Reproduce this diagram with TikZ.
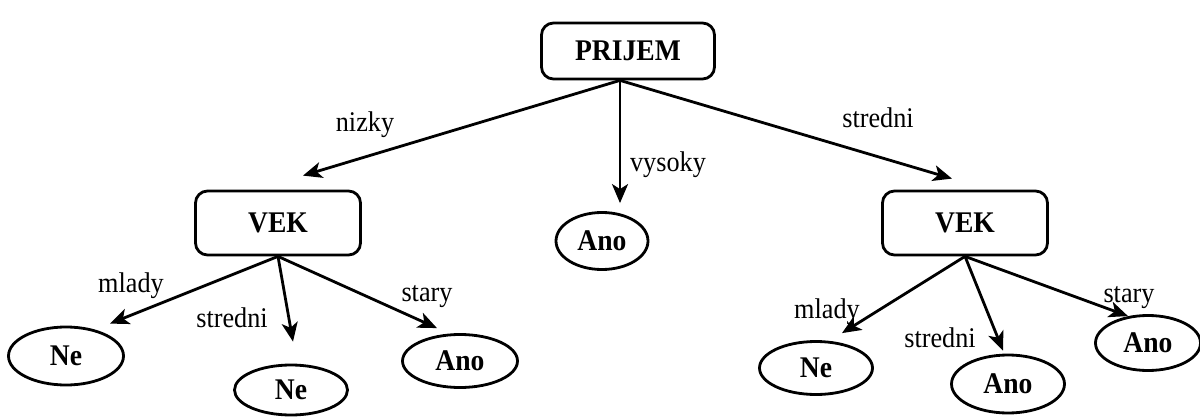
\documentclass[tikz,border=0pt]{standalone}
\usepackage{fontspec}
\setmainfont[FakeStretch=0.92]{Liberation Serif}
\usetikzlibrary{arrows.meta,shapes.geometric}

\begin{document}
\begin{tikzpicture}[x=1pt,y=1pt,>={Stealth[length=19pt,width=16pt,inset=5pt]},line width=2.8pt,
    attr/.style={draw,rounded corners=12pt,minimum width=165pt,minimum height=64pt,inner sep=0pt,
      font=\fontsize{30}{34}\selectfont\bfseries},
    leaf/.style={draw,ellipse,minimum width=113pt,minimum height=54pt,inner sep=0pt,
      font=\fontsize{30}{34}\selectfont\bfseries},
    lbl/.style={anchor=base,inner sep=0pt,font=\fontsize{28.5}{32}\selectfont}]
      \useasboundingbox (0,0) rectangle (1200,416);

      \node[attr,minimum width=173pt,minimum height=56pt] (prijem) at (628,365) {PRIJEM};
      \node[attr]  (vekL)  at (278,193)  {VEK};
      \node[attr]  (vekR)  at (965,193)  {VEK};
      \node[leaf,minimum width=92pt,minimum height=57pt] (anoM) at (602,175) {Ano};
      \node[leaf,minimum width=115pt,minimum height=58pt] (neL1) at (66,60) {Ne};
      \node[leaf,minimum height=50pt] (neL2) at (291,26) {Ne};
      \node[leaf,minimum width=115pt,minimum height=53pt] (anoL) at (460,55) {Ano};
      \node[leaf,minimum height=53pt] (neR)  at (816,48)  {Ne};
      \node[leaf,minimum height=58pt] (anoR2) at (1008,32) {Ano};
      \node[leaf,minimum width=105pt,minimum height=55pt] (anoR3) at (1148,73) {Ano};

      \coordinate (p) at ([xshift=-8pt]prijem.south);

      \path[->] (p) edge ([shift={(25pt,14pt)}]vekL.north);
      \path[->] (p) edge ([shift={(18pt,8pt)}]anoM.north);
      \path[->] (p) edge ([shift={(-13pt,11pt)}]vekR.north);
      \path[->] (vekL.south) edge ([shift={(44pt,2pt)}]neL1.north);
      \path[->] (vekL.south) edge ([shift={(2pt,22pt)}]neL2.north);
      \path[->] (vekL.south) edge ([shift={(-23pt,5pt)}]anoL.north);
      \path[->] (vekR.south) edge ([shift={(26pt,7pt)}]neR.north);
      \path[->] (vekR.south) edge ([shift={(-5pt,3pt)}]anoR2.north);
      \path[->] (vekR.south) edge ([shift={(-20pt,-2pt)}]anoR3.north);

      \node[lbl] (lNizky)   at (365,284)  {nizky};
      \node[lbl] (lVysoky)  at (668,245)  {vysoky};
      \node[lbl] (lStredni) at (878,289)  {stredni};
      \node[lbl] (lMladyL)  at (131,124)  {mlady};
      \node[lbl] (lStredL)  at (232,89)   {stredni};
      \node[lbl] (lStaryL)  at (427,115)  {stary};
      \node[lbl] (lMladyR)  at (827,98)   {mlady};
      \node[lbl] (lStredR)  at (940,69)   {stredni};
      \node[lbl] (lStaryR)  at (1129,114) {stary};
\end{tikzpicture}
\end{document}
